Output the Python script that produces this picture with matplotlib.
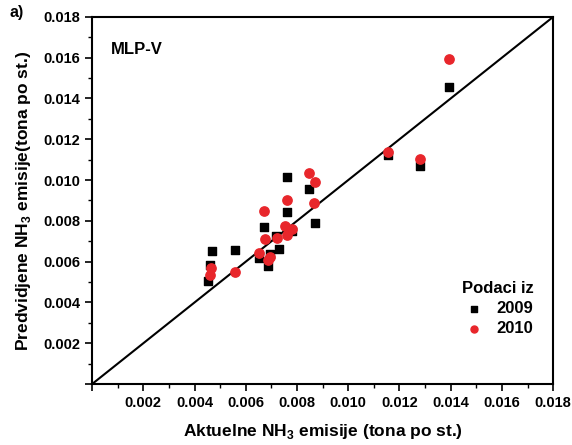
import numpy as np
import matplotlib.pyplot as plt
from matplotlib.ticker import MultipleLocator

plt.rcParams['font.family'] = 'Liberation Sans'
plt.rcParams['font.weight'] = 'bold'
plt.rcParams['mathtext.fontset'] = 'custom'
plt.rcParams['mathtext.rm'] = 'Liberation Sans:bold'
plt.rcParams['mathtext.bf'] = 'Liberation Sans:bold'

# podaci 2009 (aktuelne, predvidjene)
x2009 = [0.00760, 0.00845, 0.00760, 0.00870, 0.00673, 0.00717, 0.00780, 0.00467,
         0.00558, 0.00730, 0.00652, 0.00695, 0.00686, 0.00461, 0.00454,
         0.01392, 0.01155, 0.01281]
y2009 = [0.01015, 0.00957, 0.00843, 0.00789, 0.00772, 0.00726, 0.00748, 0.00654,
         0.00658, 0.00663, 0.00617, 0.00638, 0.00581, 0.00584, 0.00506,
         0.01456, 0.01124, 0.01070]

# podaci 2010
x2010 = [0.00845, 0.00871, 0.00760, 0.00673, 0.00868, 0.00754, 0.00780, 0.00760,
         0.00675, 0.00721, 0.00653, 0.00695, 0.00686, 0.00463, 0.00461, 0.00558,
         0.01392, 0.01155, 0.01281]
y2010 = [0.01037, 0.00993, 0.00900, 0.00846, 0.00887, 0.00776, 0.00759, 0.00731,
         0.00710, 0.00715, 0.00644, 0.00625, 0.00609, 0.00568, 0.00535, 0.00548,
         0.01594, 0.01137, 0.01103]

fig = plt.figure(figsize=(5.72, 4.45), dpi=100)
ax = fig.add_axes([0.161, 0.137, 0.806, 0.825])

ax.plot([0, 0.018], [0, 0.018], color='black', lw=1.5, zorder=1)
ax.scatter(x2009, y2009, marker='s', s=36, color='black', label='2009', zorder=2)
ax.scatter(x2010, y2010, marker='o', s=45, color='#e8262b', label='2010', zorder=3)

ax.set_xlim(0, 0.018)
ax.set_ylim(0, 0.018)
ax.xaxis.set_major_locator(MultipleLocator(0.002))
ax.yaxis.set_major_locator(MultipleLocator(0.002))
ax.xaxis.set_minor_locator(MultipleLocator(0.001))
ax.yaxis.set_minor_locator(MultipleLocator(0.001))
fmt = lambda v, p: '' if abs(v) < 1e-9 else '%.3f' % v
ax.xaxis.set_major_formatter(fmt)
ax.yaxis.set_major_formatter(fmt)
ax.tick_params(which='major', direction='out', length=5, width=1.2, labelsize=10.5)
ax.tick_params(which='minor', direction='out', length=3, width=1)
for sp in ax.spines.values():
    sp.set_linewidth(1.5)

ax.set_xlabel('Aktuelne NH$_3$ emisije (tona po st.)', fontsize=12.5, fontweight='bold', labelpad=9)
ax.set_ylabel('Predvidjene NH$_3$ emisije(tona po st.)', fontsize=12.5, fontweight='bold', labelpad=7)

ax.text(0.04, 0.9, 'MLP-V', transform=ax.transAxes, fontsize=12, fontweight='bold')
fig.text(0.017, 0.962, 'a)', fontsize=11.5, fontweight='bold')

leg = ax.legend(title='Podaci iz', frameon=False, loc='lower right',
                bbox_to_anchor=(0.99, 0.09), prop={'size': 12, 'weight': 'bold'},
                title_fontsize=12, handletextpad=0.6, handlelength=1.5,
                markerscale=0.75, labelspacing=0.3)
leg.get_title().set_fontweight('bold')

plt.savefig('out.png', dpi=100)
